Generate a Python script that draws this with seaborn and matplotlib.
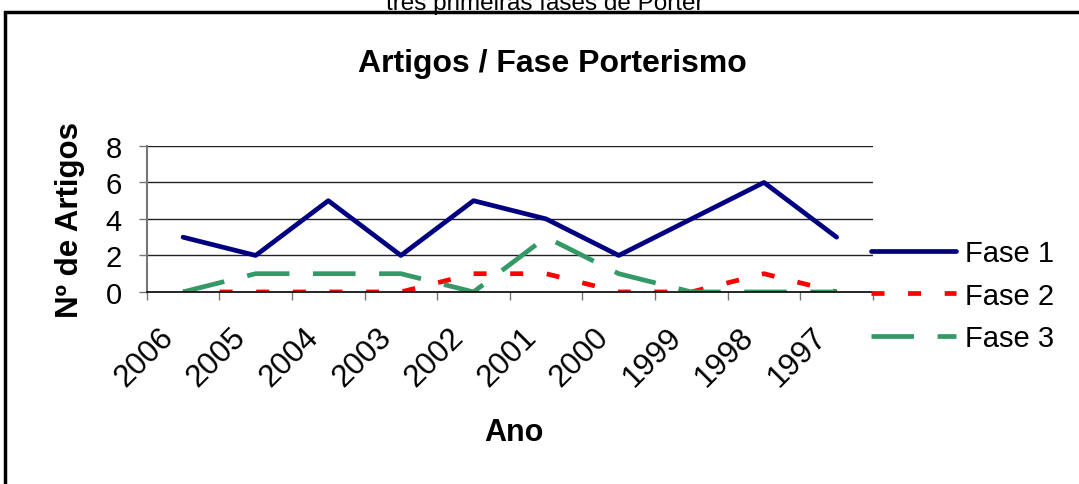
import numpy as np
import pandas as pd
import matplotlib
matplotlib.use("Agg")
import matplotlib.pyplot as plt
import matplotlib.transforms as mtransforms
from matplotlib.patches import Rectangle
import seaborn as sns

anos = ["2006", "2005", "2004", "2003", "2002", "2001", "2000", "1999", "1998", "1997"]
fase1 = [3, 2, 5, 2, 5, 4, 2, 4, 6, 3]
fase2 = [0, 0, 0, 0, 1, 1, 0, 0, 1, 0]
fase3 = [0, 1, 1, 1, 0, 3, 1, 0, 0, 0]
y_ticks = [0, 2, 4, 6, 8]

sns.set_theme(style="white")
plt.rcParams["font.family"] = ["Liberation Sans", "DejaVu Sans"]
plt.rcParams.update({
    "text.color": "black",
    "axes.labelcolor": "black",
    "xtick.labelcolor": "black",
    "ytick.labelcolor": "black",
})

fig = plt.figure(figsize=(10.79, 4.85), dpi=100)
ax = fig.add_axes([0.136, 0.396, 0.673, 0.301])

pos = np.arange(len(anos))
series = [
    ("Fase 1", fase1, "#000080", None),
    ("Fase 2", fase2, "#FF0000", (2.75, 5)),
    ("Fase 3", fase3, "#339966", (9, 5)),
]
for name, vals, col, dash in series:
    sns.lineplot(x=pos, y=vals, ax=ax, color=col, linewidth=3.4,
                 label=name, solid_capstyle="round")
    line = ax.lines[-1]
    if dash is not None:
        line.set_dashes(dash)
        line.set_dash_capstyle("butt")

ax.set_xlim(-0.5, len(anos) - 0.5)
ax.set_ylim(0, 8)
ax.set_yticks(y_ticks)
ax.set_yticklabels([str(v) for v in y_ticks], fontsize=21)
for v in y_ticks[1:]:
    ax.axhline(v, color="#222222", linewidth=1.0, zorder=0)

ax.set_xticks(pos)
ax.set_xticklabels(anos, fontsize=22.5, rotation=45, ha="right",
                   rotation_mode="anchor")
ax.set_xticks(np.arange(-0.5, len(anos)), minor=True)
ax.tick_params(axis="x", which="major", length=0, pad=21)
ax.tick_params(axis="x", which="minor", length=6, width=1, color="#777777",
               direction="out", bottom=True)
ax.tick_params(axis="y", length=6, width=1, color="#777777", direction="out",
               left=True, pad=12)
off = mtransforms.ScaledTranslation(-25 / 100, 0, fig.dpi_scale_trans)
for lab in ax.get_xticklabels():
    lab.set_transform(lab.get_transform() + off)

for s in ["top", "right"]:
    ax.spines[s].set_visible(False)
ax.spines["left"].set_color("#777777")
ax.spines["left"].set_linewidth(1.5)
ax.spines["bottom"].set_color("black")
ax.spines["bottom"].set_linewidth(1.2)

ax.set_xlabel("Ano", fontsize=22, fontweight="bold")
ax.xaxis.set_label_coords(0.505, -0.856)
ax.set_ylabel("Nº de Artigos", fontsize=22.5, fontweight="bold")
ax.yaxis.set_label_coords(-0.085, 0.5)

fig.text(0.512, 0.868, "Artigos / Fase Porterismo", fontsize=23,
         fontweight="bold", ha="center", va="center")

leg = ax.legend(loc="center left", bbox_to_anchor=(0.998, -0.025), frameon=False,
                fontsize=21, handlelength=2.9, handletextpad=0.3,
                labelspacing=0.5, borderaxespad=0, borderpad=0)

fig.add_artist(Rectangle((0.005, -0.1), 1.05, 1.074, transform=fig.transFigure,
                         fill=False, edgecolor="black", linewidth=2.5))
fig.text(0.505, 0.979, "três primeiras fases de Porter", fontsize=17.5,
         ha="center", va="baseline")

fig.savefig("out.png", dpi=100)
